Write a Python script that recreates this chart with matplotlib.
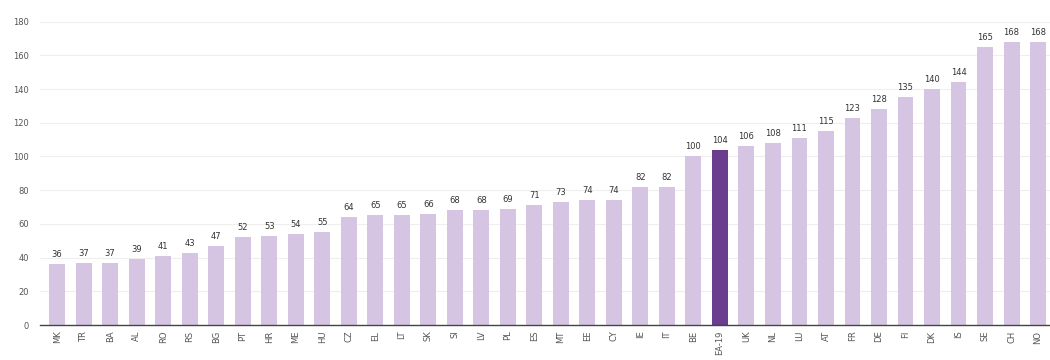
import matplotlib.pyplot as plt
import numpy as np

# Data
countries = ["MK", "TR", "BA", "AL", "RO", "RS", "BG", "PT", "HR", "ME", "HU",
             "CZ", "EL", "LT", "SK", "SI", "LV", "PL", "ES", "MT", "EE", "CY",
             "IE", "IT", "BE", "EA-19", "UK", "NL", "LU", "AT", "FR", "DE", "FI",
             "DK", "IS", "SE", "CH", "NO"]
values = [36, 37, 37, 39, 41, 43, 47, 52, 53, 54, 55,
          64, 65, 65, 66, 68, 68, 69, 71, 73, 74, 74,
          82, 82, 100, 104, 106, 108, 111, 115, 123, 128, 135,
          140, 144, 165, 168, 168]
highlight = "EA-19"

colors = ["#6a3d8f" if c == highlight else "#d6c5e2" for c in countries]
x = np.arange(len(countries))

fig = plt.figure(figsize=(10.5, 3.6), dpi=100)
ax = fig.add_axes([0.038, 0.097, 0.962, 0.843])

ax.bar(x, values, width=0.6, color=colors, zorder=2)
for xi, v in zip(x, values):
    ax.text(xi, v + 3, str(v), ha="center", va="bottom", fontsize=6, color="#333333")

ax.set_xlim(-0.65, len(countries) - 0.55)
ax.set_ylim(0, 180)
ax.set_yticks(range(0, 181, 20))
ax.set_xticks(x)
ax.set_xticklabels(countries, rotation=90, fontsize=6, color="#555555")
ax.tick_params(axis="y", labelsize=6, colors="#555555", length=0, pad=8)
ax.tick_params(axis="x", length=0, pad=4)
ax.grid(axis="y", color="#eeeeee", linewidth=0.8, zorder=0)
for s in ["top", "right", "left"]:
    ax.spines[s].set_visible(False)
ax.spines["bottom"].set_color("#444444")
ax.spines["bottom"].set_linewidth(1.0)

fig.savefig("out.png", dpi=100)
